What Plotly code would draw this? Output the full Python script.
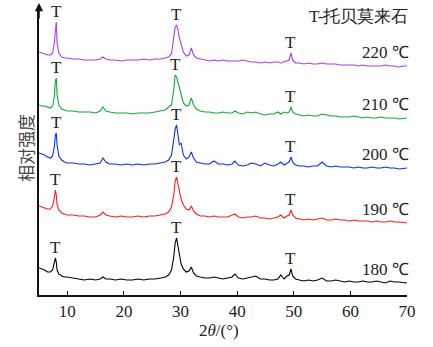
import plotly.graph_objects as go

# 2theta grid (degrees)
two_theta = [
    5, 5.5, 6, 6.5, 7, 7.4, 7.7, 7.9, 8.05, 8.2,
    8.5, 9, 9.5, 10, 11, 12, 13, 14, 15, 15.8,
    16.3, 16.8, 17.5, 18.5, 19.5, 20.5, 21.5, 22.5, 23.5, 24.5,
    25.5, 26.5, 27.3, 27.9, 28.4, 28.8, 29.05, 29.3, 29.55, 29.8,
    30.1, 30.5, 31.0, 31.5, 31.9, 32.3, 32.8, 33.5, 34.3, 35.1,
    35.9, 36.7, 37.5, 38.3, 39.1, 39.6, 40.2, 41, 41.8, 42.5,
    43.3, 44.1, 44.9, 45.7, 46.5, 47.2, 47.7, 48.3, 48.8, 49.2,
    49.5, 49.8, 50.3, 51, 51.8, 52.6, 53.4, 54.2, 55, 55.8,
    56.6, 57.4, 58.2, 59, 59.8, 60.6, 61.4, 62.2, 63, 63.8,
    64.6, 65.4, 66.2, 67, 67.8, 68.6, 69.4, 70,
]

# stacked relative intensities (arbitrary units)
i_180 = [
    27, 26, 25, 23, 23, 25, 31, 37, 33, 25,
    21, 19, 18, 18, 17, 16, 15, 16, 15, 16,
    18, 16, 16, 15, 16, 15, 15, 16, 15, 16,
    16, 17, 18, 20, 25, 38, 52, 57, 48, 39,
    31, 26, 23, 24, 28, 22, 19, 18, 17, 17,
    18, 17, 16, 17, 18, 21, 17, 16, 17, 18,
    19, 16, 16, 15, 15, 16, 20, 16, 19, 20,
    26, 19, 16, 15, 14, 15, 14, 15, 17, 14,
    14, 15, 14, 13, 14, 13, 13, 14, 13, 13,
    14, 13, 12, 14, 13, 13, 12, 12,
]
i_190 = [
    89, 88, 87, 86, 86, 89, 97, 105, 100, 90,
    85, 82, 81, 80, 80, 79, 79, 78, 78, 80,
    83, 80, 79, 78, 79, 78, 78, 79, 78, 79,
    79, 80, 81, 83, 88, 100, 114, 118, 112, 103,
    96, 90, 86, 85, 89, 84, 81, 79, 79, 78,
    79, 78, 78, 78, 80, 81, 78, 77, 78, 78,
    79, 77, 77, 76, 77, 78, 80, 77, 79, 80,
    85, 80, 77, 76, 75, 76, 75, 76, 77, 75,
    75, 76, 75, 75, 74, 75, 74, 74, 74, 73,
    74, 73, 73, 74, 73, 73, 72, 72,
]
i_200 = [
    142, 141, 140, 138, 137, 139, 148, 160, 162, 150,
    139, 135, 133, 132, 132, 131, 131, 130, 131, 132,
    137, 133, 131, 131, 130, 131, 130, 131, 130, 131,
    131, 132, 133, 135, 140, 155, 166, 170, 158, 150,
    152, 140, 136, 138, 143, 137, 133, 132, 131, 131,
    134, 131, 131, 130, 131, 134, 130, 129, 130, 132,
    131, 129, 132, 130, 129, 131, 133, 130, 132, 133,
    138, 133, 130, 129, 129, 128, 129, 129, 133, 129,
    128, 129, 128, 128, 128, 127, 128, 127, 127, 128,
    127, 127, 128, 127, 127, 126, 127, 127,
]
i_210 = [
    190, 189, 189, 188, 187, 189, 198, 214, 217, 200,
    190, 186, 185, 184, 184, 183, 183, 183, 182, 184,
    188, 184, 183, 182, 182, 182, 181, 182, 182, 182,
    183, 184, 185, 188, 190, 205, 220, 218, 212, 206,
    200, 192, 189, 190, 197, 190, 186, 184, 183, 183,
    182, 182, 183, 182, 182, 184, 182, 181, 183, 182,
    183, 181, 180, 181, 181, 183, 181, 183, 182, 183,
    188, 183, 181, 180, 179, 180, 179, 179, 181, 180,
    179, 179, 178, 178, 178, 179, 178, 177, 178, 177,
    177, 178, 177, 177, 177, 176, 177, 177,
]
i_220 = [
    243, 242, 241, 240, 240, 242, 252, 270, 273, 252,
    242, 238, 237, 237, 236, 236, 235, 235, 235, 236,
    238, 236, 235, 235, 234, 235, 235, 235, 236, 235,
    236, 236, 237, 238, 241, 255, 268, 270, 265, 257,
    250, 243, 239, 240, 247, 240, 237, 236, 235, 234,
    235, 234, 235, 234, 234, 234, 234, 235, 234, 233,
    233, 232, 233, 232, 233, 233, 232, 233, 234, 235,
    242, 235, 232, 232, 231, 232, 231, 231, 232, 231,
    231, 231, 230, 230, 230, 230, 229, 230, 229, 229,
    229, 229, 230, 229, 229, 228, 229, 229,
]

series_labels = ["180 ℃", "190 ℃", "200 ℃", "210 ℃", "220 ℃"]
series_values = [i_180, i_190, i_200, i_210, i_220]
series_colors = ["#000000", "#ff1a1a", "#0a2bff", "#10a83a", "#a93cf0"]
peak_centers = [8.0, 29.3, 49.5]  # tobermorite (T) reflections
legend_text = "T-托贝莫来石"

SERIF = "Liberation Serif"

fig = go.Figure()
annotations = []
for lab, vals, col in zip(series_labels, series_values, series_colors):
    fig.add_trace(go.Scatter(x=two_theta, y=vals, mode="lines",
                             line=dict(color=col, width=1.1), name=lab,
                             showlegend=False, hoverinfo="skip"))
    # T markers above peak maxima
    for pc in peak_centers:
        idx = [k for k, t in enumerate(two_theta) if abs(t - pc) <= 0.5]
        kmax = max(idx, key=lambda k: vals[k])
        annotations.append(dict(x=two_theta[kmax], y=vals[kmax], xref="x", yref="y",
                                text="T", showarrow=False, yanchor="bottom",
                                yshift=-1, font=dict(family=SERIF, size=17, color="#222")))
    # temperature label at right end
    annotations.append(dict(x=1, y=vals[-1], xref="paper", yref="y", text=lab,
                            showarrow=False, xanchor="right", yanchor="bottom",
                            xshift=4, yshift=2,
                            font=dict(family=SERIF, size=17, color="#222")))

annotations.append(dict(x=1, y=279, xref="paper", yref="y", text=legend_text,
                        showarrow=False, xanchor="right", yanchor="middle", xshift=4,
                        font=dict(family=SERIF, size=17, color="#222")))
annotations.append(dict(x=0, y=147, xref="paper", yref="y", text="相对强度",
                        showarrow=False, textangle=-90, xanchor="center", yanchor="middle",
                        xshift=-14, font=dict(family="Noto Sans CJK SC", size=17, color="#444")))
annotations.append(dict(x=0.49, y=0, xref="paper", yref="paper", text="2<i>θ</i>/(°)",
                        showarrow=False, xanchor="center", yanchor="top", yshift=-24,
                        font=dict(family=SERIF, size=17, color="#222")))
# y-axis arrow
annotations.append(dict(x=5, y=292, ax=5, ay=275, xref="x", yref="y", axref="x", ayref="y",
                        text="", showarrow=True, arrowhead=2, arrowsize=1.1, arrowwidth=1.5,
                        arrowcolor="#111", standoff=0, startstandoff=0))

fig.update_layout(
    width=433, height=347,
    margin=dict(l=39, r=26, t=8, b=52),
    paper_bgcolor="white", plot_bgcolor="white",
    annotations=annotations,
    xaxis=dict(range=[5, 70], tickvals=[10, 20, 30, 40, 50, 60, 70],
               showline=True, linecolor="#111", linewidth=1.5,
               ticks="inside", ticklen=4, tickwidth=1.2, tickcolor="#111",
               showgrid=False, zeroline=False,
               tickfont=dict(family=SERIF, size=17, color="#222")),
    yaxis=dict(range=[0, 287], showline=True, linecolor="#111", linewidth=1.5,
               showticklabels=False, ticks="", showgrid=False, zeroline=False),
)

fig.write_html("out.html")
